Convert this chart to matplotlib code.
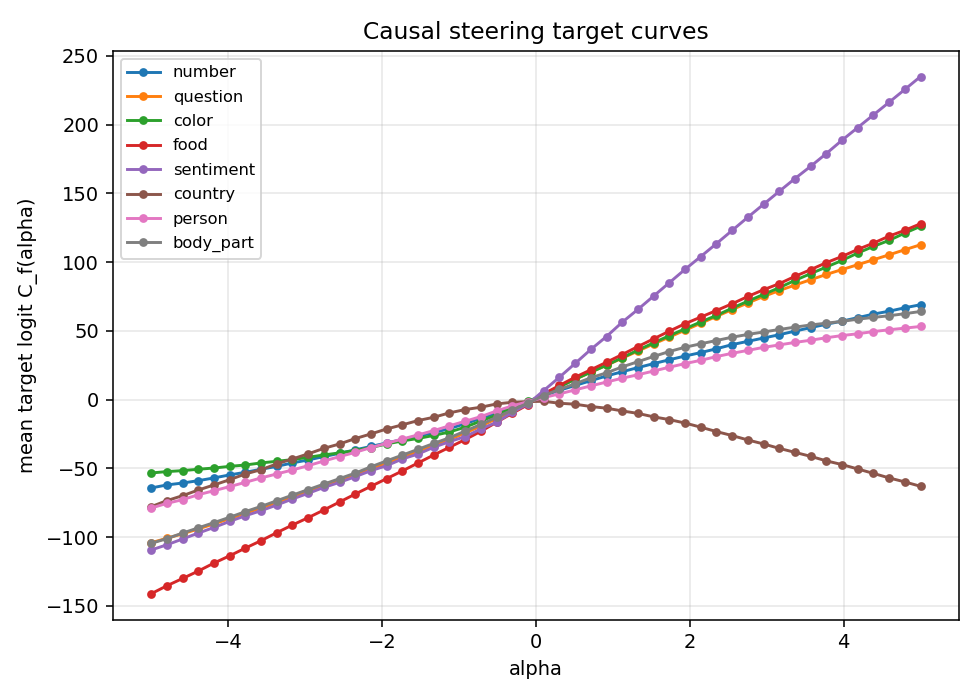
import numpy as np
import matplotlib
matplotlib.use("Agg")
import matplotlib.pyplot as plt

alpha = np.linspace(-5, 5, 50)

number = [-64.2, -62, -60.6, -58.9, -56.9, -54.7, -52.8, -50.6, -48.5, -46, -43.8, -41.4, -39, -36.5,
          -34, -31.5, -29, -26.5, -24, -21, -17.5, -13.5, -9.5, -6, -2.5,
          3, 6.8, 10.3, 13.8, 17.2, 20.3, 23.3, 26.2, 29, 31.7, 34.2, 37, 40, 42.4, 44.8, 47.2, 49.8,
          52.4, 54.8, 57.1, 59.6, 62.2, 64.3, 66.8, 69]
question = [-104, -100.8, -97.5, -94, -90.3, -86.5, -82.6, -78.8, -74.8, -70.8, -66.8, -62.8, -58.8, -54.8,
            -50.5, -46.2, -42, -37.8, -33.5, -29, -24.2, -19.2, -13.8, -8, -2.7,
            4, 9.5, 14.8, 20, 25, 30.2, 35.3, 40.5, 45.5, 50.5, 55.5, 60.5, 65.5, 70.3, 75, 79.3, 83.3,
            87.2, 91, 94.6, 98.1, 101.7, 105.3, 109, 112.6]
color = [-53.3, -52.3, -51.6, -50.6, -49.7, -48.5, -47.5, -46, -44.8, -43.6, -41.9, -40.2, -38.7, -37,
         -34.8, -32.2, -30, -28.2, -26, -23.5, -20, -15.5, -11.2, -5.8, -1.3,
         3.5, 9.3, 14.8, 20, 25, 30.5, 36, 41.3, 46.5, 51.5, 56.5, 61.2, 66.5, 71.6, 76.5, 81.4, 86.7,
         91.6, 96.4, 101.2, 106.6, 111.4, 115.8, 121.1, 126]
food = [-141.1, -135.3, -130, -124.6, -118.8, -113.5, -107.9, -102.5, -96.7, -91.1, -85.8, -80.2, -74.4, -68.6,
        -63, -57.4, -51.8, -46, -40.2, -34.6, -29, -23, -16.4, -9.9, -3.6,
        4.2, 10.3, 16.3, 21.7, 27.2, 32.8, 38.6, 44.2, 49.8, 55.2, 60, 64.8, 69.7, 75, 79.9, 84.3, 89.6,
        94.5, 99.6, 104.1, 109.2, 113.8, 118.9, 123.1, 127.9]
sentiment = [-109.3, -105.5, -101.3, -97, -92.9, -88.5, -84.4, -80.7, -76.6, -72.2, -68.1, -63.8, -60.1, -56,
             -51.6, -48, -43.1, -39.5, -34.6, -30.5, -26.9, -21.3, -16.4, -9.2, -3.1,
             6.6, 16.3, 26.3, 36.5, 45.9, 56.3, 65.6, 75.3, 85, 94.7, 104, 113.4, 123, 132.6, 142, 151.4,
             160.7, 169.6, 178.9, 188.6, 197.8, 207, 216.2, 225.5, 234.9]
country = [-77.8, -73.4, -69.8, -65.7, -62, -58.2, -54, -50.9, -46.7, -43.1, -39.4, -35.4, -32.2, -28.3,
           -24.9, -21.3, -18.3, -15.2, -12.8, -9.6, -7.2, -5.5, -3.1, -1.9, -1.4,
           -1.2, -2.6, -3.3, -5, -6.2, -8.2, -10, -12.5, -14.5, -17, -20, -23.2, -26.1, -29.3, -32.2, -35.4,
           -38.3, -41.2, -44.5, -47.2, -50.4, -53.6, -56.9, -59.8, -63]
person = [-78.8, -75.4, -72.7, -69.1, -66.2, -63.2, -60.1, -56.9, -54, -51.1, -48, -44.6, -41.4, -38.3,
          -34.8, -31.7, -28.6, -25.6, -22.5, -19, -15.7, -12.3, -8.2, -4.5, -1.5,
          1.5, 4.2, 7.1, 10, 12.8, 15.6, 18.1, 20.8, 23.6, 26.2, 28.6, 31.3, 33.7, 35.8, 38, 39.8, 41.6,
          43.2, 45, 46.6, 47.9, 49.5, 50.8, 52, 53.2]
body_part = [-104.5, -101, -97, -93.2, -89.4, -85.5, -81.4, -77.6, -73.5, -69.4, -65.4, -61.4, -57.4, -53.4,
             -48.8, -44.5, -40.3, -36.1, -31.8, -27.7, -22.8, -18, -12.8, -7.5, -2.5,
             3, 7.5, 11.5, 15.9, 19.5, 23.8, 27.6, 31.4, 35, 38.1, 40.6, 43, 45.4, 47.4, 49.2, 51, 52.7,
             54.3, 55.6, 56.9, 58.5, 59.8, 61, 62.5, 64.1]

series_names = ["number", "question", "color", "food", "sentiment", "country", "person", "body_part"]
series_vals = [number, question, color, food, sentiment, country, person, body_part]

fig, ax = plt.subplots(figsize=(7, 5), dpi=140)
for name, vals in zip(series_names, series_vals):
    ax.plot(alpha, vals, marker="o", markersize=3.5, linewidth=1.5, label=name)

ax.set_title("Causal steering target curves")
ax.set_xlabel("alpha")
ax.set_ylabel("mean target logit C_f(alpha)")
ax.grid(True, alpha=0.3)
ax.legend(loc="upper left", fontsize="small", labelspacing=0.58)
fig.tight_layout()
fig.subplots_adjust(left=0.115)
fig.savefig("out.png", dpi=140)
